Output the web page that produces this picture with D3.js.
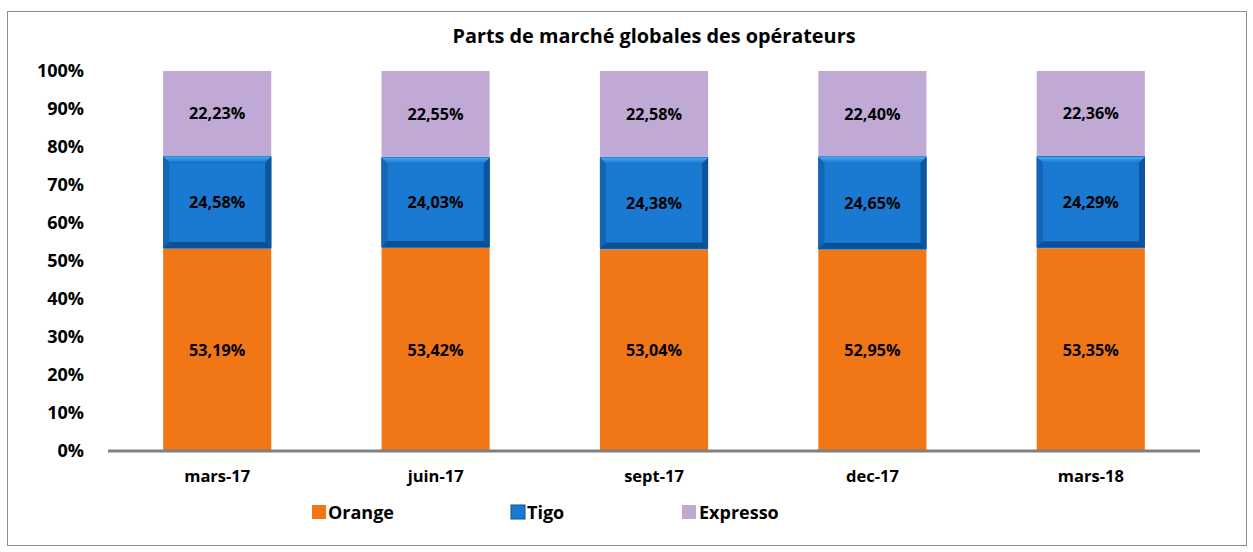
<!DOCTYPE html>
<html>
<head>
<meta charset="utf-8">
<script src="https://cdn.jsdelivr.net/npm/d3@7"></script>
<style>
	body { margin: 0; background: #fff; }
	svg { display: block; font-family: 'Open Sans', Lato, sans-serif; font-weight: bold; }
	.scale-label .domain { stroke: #808080; stroke-width: 3; }
	.scale-label text { fill: #000; font-weight: bold; font-family: 'Open Sans', sans-serif; }
</style>
</head>
<body>
<svg id="chart"></svg>
<script>
const categories = ['mars-17', 'juin-17', 'sept-17', 'dec-17', 'mars-18']
const seriesNames = ['Orange', 'Tigo', 'Expresso']
const orange = [53.19, 53.42, 53.04, 52.95, 53.35]
const tigo = [24.58, 24.03, 24.38, 24.65, 24.29]
const expresso = [22.23, 22.55, 22.58, 22.40, 22.36]
const yTicks = [0, 10, 20, 30, 40, 50, 60, 70, 80, 90, 100]

function stackedChart() {
	const width = 1253
	const height = 552

	const margin = {
		top: 71,
		right: 53,
		bottom: 101,
		left: 108
	}

	const colors = { Orange: '#f17716', Tigo: '#1a7ad2', Expresso: '#c0aad5' }

	const table = categories.map((c, i) => ({
		category: c,
		Orange: orange[i],
		Tigo: tigo[i],
		Expresso: expresso[i]
	}))

	const series = d3.stack().keys(seriesNames)(table)

	const xScale = d3
		.scaleBand()
		.domain(categories)
		.range([margin.left, width - margin.right])
		.paddingInner(0.505)
		.paddingOuter(0.2525)
	const yScale = d3.scaleLinear().domain([0, 100]).range([height - margin.bottom, margin.top])

	const svg = d3.select('#chart').attr('width', width).attr('height', height)

	// outer frame
	svg
		.append('rect')
		.attr('x', 7.5)
		.attr('y', 11.5)
		.attr('width', 1239)
		.attr('height', 534)
		.attr('fill', '#fff')
		.attr('stroke', '#8c8c8c')
		.attr('stroke-width', 1)

	const defs = svg.append('defs')
	const grad = defs.append('linearGradient').attr('id', 'tigoEdge').attr('x1', 0).attr('x2', 0).attr('y1', 0).attr('y2', 1)
	grad.append('stop').attr('offset', 0).attr('stop-color', '#4aa6ee')
	grad.append('stop').attr('offset', 1).attr('stop-color', '#1478d0')

	svg
		.append('text')
		.attr('x', 654)
		.attr('y', 43)
		.attr('text-anchor', 'middle')
		.attr('font-size', 19.8)
		.attr('textLength', 403)
		.attr('lengthAdjust', 'spacingAndGlyphs')
		.text('Parts de marché globales des opérateurs')

	const groups = svg
		.selectAll('g.layer')
		.data(series)
		.join('g')
		.attr('class', 'layer')

	groups
		.selectAll('rect')
		.data(d => d.map(p => ({ key: d.key, p })))
		.join('rect')
		.attr('x', d => xScale(d.p.data.category))
		.attr('y', d => yScale(d.p[1]))
		.attr('width', xScale.bandwidth())
		.attr('height', d => yScale(d.p[0]) - yScale(d.p[1]))
		.attr('fill', d => colors[d.key])

	// bevel effect on the Tigo segments
	const tigoLayer = series.find(s => s.key === 'Tigo')
	const bevel = svg.append('g')
	tigoLayer.forEach(p => {
		const x0 = xScale(p.data.category)
		const w = xScale.bandwidth()
		const y0 = yScale(p[1]) + 1
		const y1 = yScale(p[0]) - 1
		const b = 6
		bevel.append('rect').attr('x', x0).attr('y', y0).attr('width', w).attr('height', y1 - y0).attr('fill', '#0f5fae')
		bevel
			.append('path')
			.attr('d', `M${x0},${y0}H${x0 + w}L${x0 + w - b},${y0 + b}H${x0 + b}Z`)
			.attr('fill', 'url(#tigoEdge)')
		bevel
			.append('path')
			.attr('d', `M${x0},${y1}H${x0 + w}L${x0 + w - b},${y1 - b}H${x0 + b}Z`)
			.attr('fill', '#0c4f93')
		bevel
			.append('path')
			.attr('d', `M${x0},${y0}V${y1}L${x0 + b},${y1 - b}V${y0 + b}Z`)
			.attr('fill', '#1366b6')
		bevel
			.append('path')
			.attr('d', `M${x0 + w},${y0}V${y1}L${x0 + w - b},${y1 - b}V${y0 + b}Z`)
			.attr('fill', '#0d559c')
		bevel
			.append('rect')
			.attr('x', x0 + b)
			.attr('y', y0 + b)
			.attr('width', w - 2 * b)
			.attr('height', y1 - y0 - 2 * b)
			.attr('fill', '#1a7ad2')
	})

	// data labels
	const labels = svg.append('g')
	series.forEach(s => {
		s.forEach(p => {
			labels
				.append('text')
				.attr('x', xScale(p.data.category) + xScale.bandwidth() / 2)
				.attr('y', (yScale(p[0]) + yScale(p[1])) / 2 + 6)
				.attr('text-anchor', 'middle')
				.attr('font-size', 16.2)
				.attr('fill', '#000')
				.text(d3.format('.2f')(p[1] - p[0]).replace('.', ',') + '%')
		})
	})

	const yAxis = d3
		.axisLeft(yScale)
		.tickValues(yTicks)
		.tickSize(0)
		.tickPadding(24)
		.tickFormat(d => d + '%')
	svg
		.append('g')
		.attr('class', 'scale-label')
		.attr('transform', `translate(${margin.left},0)`)
		.call(yAxis)
		.call(g => g.select('.domain').remove())
		.selectAll('text')
		.attr('font-size', 18)

	const xAxis = d3.axisBottom(xScale).tickSize(0).tickPadding(19)
	svg
		.append('g')
		.attr('class', 'scale-label')
		.attr('transform', `translate(0,${height - margin.bottom})`)
		.call(xAxis)
		.call(g => g.select('.domain').attr('d', `M${margin.left},0H${width - margin.right}`))
		.selectAll('text')
		.attr('font-size', 16.5)

	// legend
	const legendX = [312, 511, 682]
	const legend = svg
		.append('g')
		.selectAll('g')
		.data(seriesNames)
		.join('g')
		.attr('transform', (d, i) => `translate(${legendX[i]},505)`)
	legend
		.append('rect')
		.attr('width', 14)
		.attr('height', 14)
		.attr('fill', d => colors[d])
		.attr('stroke', d => (d === 'Tigo' ? '#0c4f93' : 'none'))
	legend
		.append('text')
		.attr('x', d => (d === 'Expresso' ? 17 : 16))
		.attr('y', 14)
		.attr('font-size', 18)
		.text(d => d)
}

stackedChart()
</script>
</body>
</html>
